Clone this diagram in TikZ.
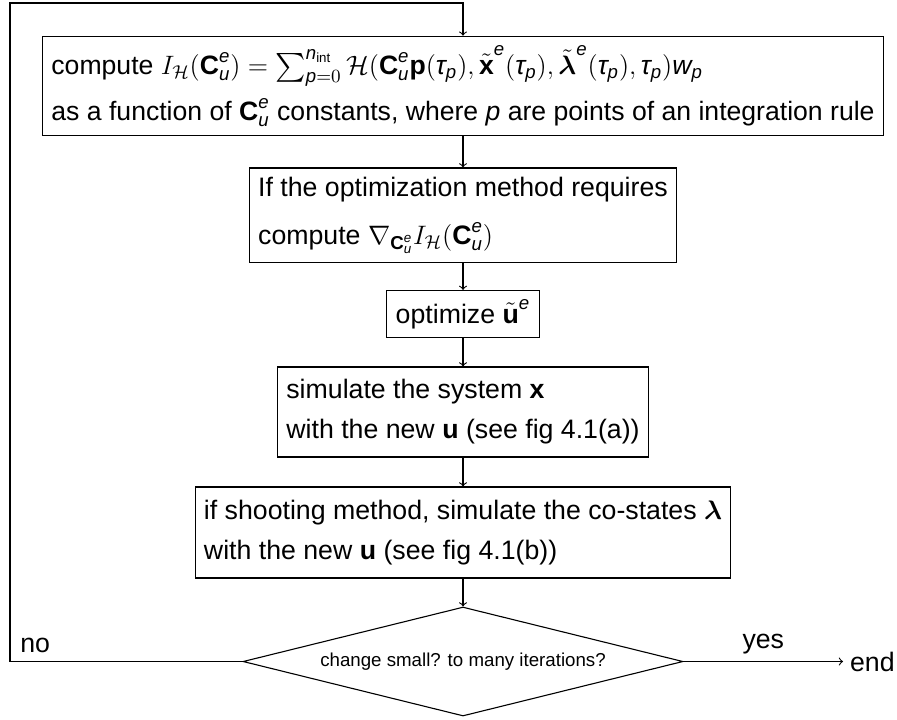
\RequirePackage{fix-cm}
\documentclass[tikz,border=0pt]{standalone}
\usepackage{amsmath}
\usepackage{bm}
\usepackage{fontspec}
\setmainfont{Liberation Sans}
\usetikzlibrary{shapes.geometric}

% sans-serif italic and bold symbols inside formulas
\newcommand\sit[1]{\text{\itshape #1}}
\newcommand\sbf[1]{\text{\bfseries #1}}
\newcommand\Cue{\sbf{C}_{\sit{u}}^{\sit{e}}}
\newcommand\taup{\sit{τ}_{\sit{p}}}
% superscript set above a tilde accent
\newcommand\tsup[2]{{#1}^{\raisebox{#2}{$\scriptstyle\sit{e}$}}}

\tikzset{
  flowbox/.style={draw, rectangle, align=left, line width=0.55pt,
                  inner sep=4.45pt},
  decision/.style={draw, diamond, aspect=4, inner sep=0pt, line width=0.55pt,
                   minimum width=220pt, minimum height=54.5pt,
                   font={\fontsize{9.35pt}{11pt}\selectfont}},
  flowlabel/.style={font={\fontsize{13.35pt}{16pt}\selectfont}},
  link/.style={->, line width=0.55pt},
}

\begin{document}
\begin{tikzpicture}[x=0.5pt, y=-0.5pt]
\useasboundingbox (0,0) rectangle (897,719);

\node[flowbox, minimum height=48pt, font={\fontsize{13.3pt}{23pt}\selectfont}] (b1) at (463,86)
  {compute $I_{\mathcal{H}}(\Cue) = \sum_{\sit{p}=0}^{\sit{n}_{\text{int}}} \mathcal{H}(\Cue\sbf{p}(\taup), \tsup{\tilde{\sbf{x}}}{0.2em}(\taup), \tsup{\tilde{\bm{\lambda}}}{0.35em}(\taup), \taup)\sit{w}_{\sit{p}}$\\
   as a function of $\Cue$ constants, where $\sit{p}$ are points of an integration rule};

\node[flowbox, minimum height=47pt, font={\fontsize{13.35pt}{24pt}\selectfont}] (b2) at (463,215)
  {If the optimization method requires\\
   compute $\nabla_{\Cue} I_{\mathcal{H}}(\Cue)$};

\node[flowbox, minimum height=22pt, font={\fontsize{13.35pt}{20pt}\selectfont}] (b3) at (463,314)
  {optimize ${\tilde{\sbf{u}}}^{\sit{e}}$};

\node[flowbox, minimum height=45pt, font={\fontsize{13.35pt}{20pt}\selectfont}] (b4) at (463,412)
  {simulate the system \textbf{x}\\
   with the new \textbf{u} (see fig 4.1(a))};

\node[flowbox, minimum height=45.5pt, font={\fontsize{13.35pt}{20pt}\selectfont}] (b5) at (463,532.5)
  {if shooting method, simulate the co-states $\bm{\lambda}$\\
   with the new \textbf{u} (see fig 4.1(b))};

\node[decision] (dia) at (463,661.5) {change small? to many iterations?};

\node[flowlabel, anchor=west] (endn) at (843,661.5) {end};
\node[flowlabel, anchor=base west, inner sep=0pt] (nolab) at (20,652) {no};

\coordinate (corner) at (10,3);

\draw[link] (b1) -- (b2);
\draw[link] (b2) -- (b3);
\draw[link] (b3) -- (b4);
\draw[link] (b4) -- (b5);
\draw[link] (b5) -- (dia);
\draw[link] (dia.east) -- node[flowlabel, above] (yeslab) {yes} (endn.west);
\draw[link] (dia.west) -| (corner) -| (b1.north);
\end{tikzpicture}
\end{document}
